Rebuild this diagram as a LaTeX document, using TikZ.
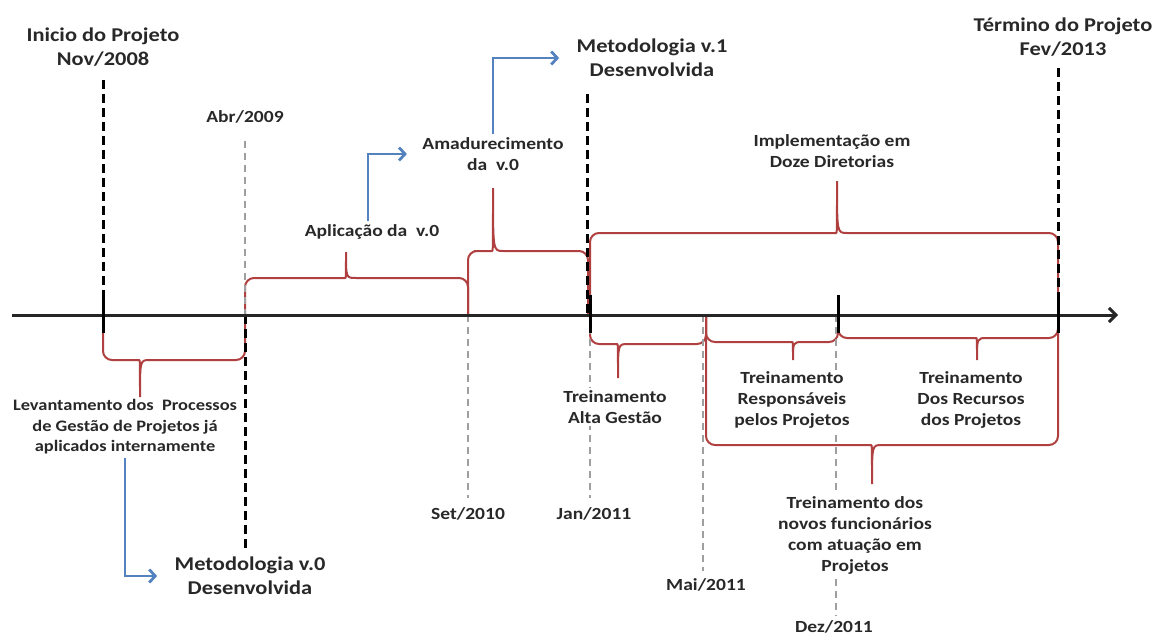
\documentclass[tikz,border=0pt]{standalone}
\usepackage{fontspec}
\setmainfont{Carlito}[FakeStretch=1.15]
\usetikzlibrary{arrows.meta,backgrounds}
\definecolor{bracered}{RGB}{176,64,64}
\definecolor{flowblue}{RGB}{84,130,190}
\definecolor{textgray}{RGB}{40,40,40}

\begin{document}
\begin{tikzpicture}[x=1pt, y=-1pt,
        every node/.style={text=textgray, align=center},
        big/.style={font=\fontsize{19.5}{24}\selectfont\bfseries},
        lbl/.style={font=\fontsize{17}{21}\selectfont\bfseries},
        boxed/.style={fill=white, inner sep=2pt},
        axisline/.style={line width=3pt, black!85, -{Straight Barb[length=7pt,width=14pt]}},
        tickline/.style={line width=3pt, black},
        milestone/.style={line width=3pt, black, dash pattern=on 9pt off 5pt},
        datum/.style={line width=2.6pt, gray!75, dash pattern=on 7pt off 5pt},
        brace/.style={line width=2pt, bracered},
        flow/.style={line width=2.8pt, flowblue, -{Straight Barb[length=6pt,width=13pt]}}
    ]
        \useasboundingbox (0,0) rectangle (1163,637);

        % Datas na linha do tempo
        \foreach \n/\x in {nov/103, abr/245, set/468, jan/590, mai/706, dez/838, fev/1058}
            \coordinate (\n) at (\x,315);
        \coordinate (inicioaxis) at (12,315);
        \coordinate (fimaxis) at (1118,315);

        % Marcos
        \node[big] (inicio) at (103,47) {Inicio do Projeto\\Nov/2008};
        \node[big] (termino) at (1063,37) {Término do Projeto\\Fev/2013};
        \node[big] (metv1) at (652,58) {Metodologia v.1\\Desenvolvida};
        \node[big] (metv0) at (250,576) {Metodologia v.0\\Desenvolvida};

        % Datas
        \node[lbl] (abrlbl) at (245,117) {Abr/2009};
        \node[lbl] (setlbl) at (468,514) {Set/2010};
        \node[lbl] (janlbl) at (594,514) {Jan/2011};
        \node[lbl] (mailbl) at (706,585) {Mai/2011};
        \node[lbl] (dezlbl) at (834,627) {Dez/2011};

        % Fases
        \node[lbl] (aplic) at (372,232) {Aplicação da\ \ v.0};
        \node[lbl] (amad) at (493,154) {Amadurecimento\\da\ \ v.0};
        \node[lbl] (impl) at (832,151) {Implementação em\\Doze Diretorias};
        \node[lbl, font=\fontsize{16}{20.5}\selectfont\bfseries] (levant) at (125,427)
            {Levantamento dos\ \ Processos\\de Gestão de Projetos já\\aplicados internamente};
        \node[lbl, boxed] (alta) at (615,407) {Treinamento\\Alta Gestão};
        \node[lbl, boxed] (resp) at (792,400) {Treinamento\\Responsáveis\\pelos Projetos};
        \node[lbl] (recur) at (971,400) {Treinamento\\Dos Recursos\\dos Projetos};
        \node[lbl, boxed] (novos) at (855,535) {Treinamento dos\\novos funcionários\\com atuação em\\Projetos};

        \begin{scope}[on background layer]
            % Chaves das fases
            \foreach \a/\b/\y/\t/\p in {245/468/278/346/252, 468/588/251/493/188,
                    590/1058/233/837/181, 103/245/360/140/397, 590/706/344/618/378,
                    706/838/342/793/360, 838/1058/338/977/360, 706/1058/445/872/484}
                \draw[brace] (\a,315) [rounded corners=9pt] -- (\a,\y) -- (\t-10,\y) [sharp corners]
                    .. controls (\t,\y) .. (\t,\p) .. controls (\t,\y) .. (\t+10,\y)
                    [rounded corners=9pt] -- (\b,\y) -- (\b,315);

            % Linhas tracejadas acima
            \draw[milestone, shorten <=10pt] (nov |- inicio.south) -- (nov);
            \draw[milestone, shorten <=14pt] ([xshift=-3pt]jan |- metv1.south) -- ([xshift=-3pt]jan);
            \draw[milestone, shorten <=8pt] (fev |- termino.south) -- (fev);
            \draw[datum, shorten <=14pt] (abr |- abrlbl.south) -- (abr);

            % Linhas tracejadas abaixo
            \draw[milestone, shorten >=6pt] (abr) -- (abr |- metv0.north);
            \draw[datum, shorten >=6pt] (set) -- (set |- setlbl.north);
            \draw[datum, shorten >=6pt] (jan) -- (jan |- janlbl.north);
            \draw[datum, shorten >=4pt] ([xshift=-3pt]mai) -- ([xshift=-3pt]mai |- mailbl.north);
            \draw[datum, shorten >=2pt] ([xshift=-2pt]dez) -- ([xshift=-2pt]dez |- dezlbl.north);

            % Eixo
            \draw[axisline] (inicioaxis) -- (fimaxis);
            \foreach \n in {nov, jan, dez, fev}
                \draw[tickline] ([yshift=20pt]\n) -- ([yshift=-18pt]\n);
        \end{scope}

        % Setas
        \draw[flow, shorten >=14pt] (levant.south) |- (metv0.west);
        \draw[flow, shorten >=12pt] ([xshift=-4pt]aplic.north) |- (amad.west);
        \draw[flow, shorten >=14pt] (amad.north) |- (metv1.west);

    \end{tikzpicture}
\end{document}
